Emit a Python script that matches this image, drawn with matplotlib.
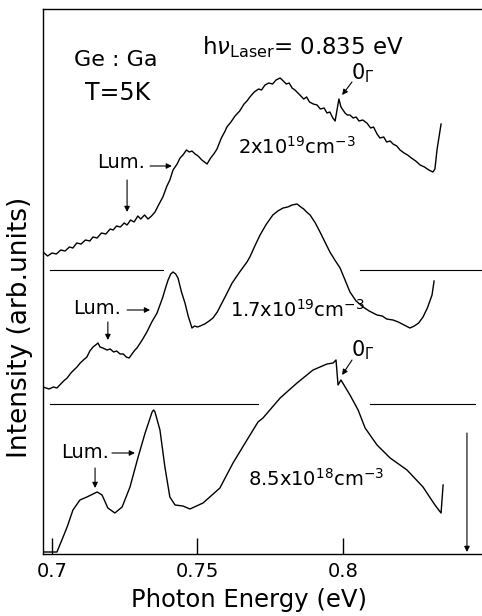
import matplotlib
matplotlib.use("Agg")
import matplotlib.pyplot as plt
import numpy as np

plt.rcParams['font.family'] = ['DejaVu Sans']
plt.rcParams['mathtext.fontset'] = 'dejavusans'

# spectrum 2x10^19 cm^-3 (top)
e_top = [0.6969, 0.6985, 0.7000, 0.7015, 0.7030, 0.7045, 0.7060, 0.7072, 0.7085, 0.7100,
         0.7115, 0.7130, 0.7141, 0.7155, 0.7170, 0.7185, 0.7200, 0.7210, 0.7222, 0.7235,
         0.7248, 0.7258, 0.7270, 0.7282, 0.7295, 0.7305, 0.7318, 0.7330, 0.7342, 0.7354,
         0.7368, 0.7381, 0.7395, 0.7405, 0.7416, 0.7430, 0.7440, 0.7450, 0.7462, 0.7472,
         0.7481, 0.7492, 0.7502, 0.7515, 0.7533, 0.7545, 0.7556, 0.7567, 0.7582, 0.7595,
         0.7601, 0.7615, 0.7629, 0.7645, 0.7660, 0.7670, 0.7680, 0.7695, 0.7710, 0.7720,
         0.7732, 0.7745, 0.7758, 0.7770, 0.7784, 0.7795, 0.7805, 0.7815, 0.7825, 0.7835,
         0.7845, 0.7852, 0.7865, 0.7875, 0.7885, 0.7898, 0.7911, 0.7922, 0.7935, 0.7945,
         0.7955, 0.7965, 0.7973, 0.7980, 0.7986, 0.7993, 0.8007, 0.8015, 0.8024, 0.8035,
         0.8045, 0.8055, 0.8068, 0.8082, 0.8095, 0.8105, 0.8117, 0.8127, 0.8140, 0.8150,
         0.8162, 0.8172, 0.8185, 0.8196, 0.8210, 0.8222, 0.8235, 0.8250, 0.8265, 0.8280,
         0.8295, 0.8309, 0.8316, 0.8323, 0.8330, 0.8337]
i_top = [302, 298, 301, 300, 304, 303, 307, 306, 311, 310,
         314, 313, 317, 316, 321, 320, 325, 324, 328, 327,
         331, 329, 334, 332, 338, 335, 339, 335, 338, 342,
         350, 357, 368, 374, 384, 390, 396, 399, 404, 402,
         403, 400, 398, 394, 390, 396, 400, 405, 416, 423,
         427, 432, 438, 443, 450, 453, 457, 462, 465, 464,
         469, 471, 470, 474, 476, 473, 470, 471, 466, 464,
         461, 459, 455, 457, 452, 450, 449, 445, 446, 441,
         442, 436, 433, 445, 455, 447, 441, 439, 439, 436,
         437, 433, 434, 431, 426, 427, 420, 416, 417, 412,
         413, 410, 408, 404, 401, 399, 396, 393, 389, 387,
         384, 382, 385, 404, 417, 430]

# spectrum 1.7x10^19 cm^-3 (middle)
e_mid = [0.6969, 0.6990, 0.7005, 0.7017, 0.7030, 0.7040, 0.7052, 0.7065, 0.7075, 0.7086,
         0.7097, 0.7108, 0.7120, 0.7130, 0.7141, 0.7150, 0.7158, 0.7165, 0.7175, 0.7189,
         0.7200, 0.7212, 0.7222, 0.7234, 0.7245, 0.7255, 0.7265, 0.7275, 0.7285, 0.7292,
         0.7310, 0.7326, 0.7343, 0.7361, 0.7371, 0.7381, 0.7390, 0.7399, 0.7408, 0.7416,
         0.7425, 0.7433, 0.7445, 0.7457, 0.7468, 0.7481, 0.7490, 0.7500, 0.7509, 0.7525,
         0.7540, 0.7553, 0.7568, 0.7584, 0.7600, 0.7619, 0.7645, 0.7670, 0.7680, 0.7697,
         0.7715, 0.7737, 0.7759, 0.7776, 0.7794, 0.7810, 0.7825, 0.7842, 0.7855, 0.7865,
         0.7875, 0.7887, 0.7905, 0.7921, 0.7938, 0.7955, 0.7972, 0.7990, 0.8007, 0.8024,
         0.8045, 0.8069, 0.8090, 0.8117, 0.8135, 0.8150, 0.8172, 0.8190, 0.8210, 0.8230,
         0.8245, 0.8260, 0.8275, 0.8290, 0.8306, 0.8313]
i_mid = [167, 165, 167, 166, 170, 173, 176, 181, 184, 187,
         191, 194, 197, 203, 207, 209, 211, 207, 206, 204,
         205, 202, 203, 200, 200, 197, 196, 200, 204, 206,
         214, 222, 232, 241, 249, 257, 266, 274, 280, 282,
         280, 276, 262, 251, 238, 226, 228, 227, 228, 230,
         233, 236, 242, 251, 260, 271, 282, 292, 297, 308,
         319, 330, 339, 343, 346, 347, 349, 350, 347, 345,
         342, 339, 331, 322, 312, 302, 294, 286, 274, 262,
         253, 247, 243, 239, 238, 235, 234, 232, 229, 226,
         228, 231, 237, 246, 259, 273]

# spectrum 8.5x10^18 cm^-3 (bottom)
e_bot = [0.6969, 0.7017, 0.7034, 0.7052, 0.7072, 0.7096, 0.7120, 0.7155, 0.7172, 0.7192,
         0.7216, 0.7241, 0.7268, 0.7296, 0.7320, 0.7344, 0.7349, 0.7354, 0.7371, 0.7388,
         0.7405, 0.7423, 0.7450, 0.7474, 0.7519, 0.7577, 0.7622, 0.7670, 0.7708, 0.7725,
         0.7784, 0.7842, 0.7897, 0.7945, 0.7966, 0.7976, 0.7983, 0.7993, 0.8024, 0.8052,
         0.8076, 0.8117, 0.8162, 0.8220, 0.8275, 0.8316, 0.8337, 0.8344]
i_bot = [2, 2, 14, 27, 44, 54, 57, 62, 59, 46,
         41, 47, 67, 97, 121, 142, 144, 142, 124, 87,
         57, 49, 48, 45, 51, 66, 91, 114, 132, 136,
         156, 171, 184, 190, 191, 194, 169, 174, 159, 144,
         126, 109, 96, 84, 67, 49, 41, 69]

# zero lines of the shifted spectra
base_top = 284
base_mid = 150

fig = plt.figure(figsize=(4.82, 6.16), dpi=100)
ax = fig.add_axes([43 / 482, 62 / 616, 1 - 43 / 482, 545 / 616])

lw = 1.0
ax.plot(e_top, i_top, color='k', lw=lw)
ax.plot(e_mid, i_mid, color='k', lw=lw)
ax.plot(e_bot, i_bot, color='k', lw=lw)

ax.plot([0.6993, 0.7381], [base_top, base_top], color='k', lw=0.8)
ax.plot([0.8058, 0.8478], [base_top, base_top], color='k', lw=0.8)
ax.plot([0.6993, 0.7708], [base_mid, base_mid], color='k', lw=0.8)
ax.plot([0.8093, 0.8454], [base_mid, base_mid], color='k', lw=0.8)

ax.set_xlim(0.69691, 0.84777)
ax.set_ylim(0, 545)
ax.spines['right'].set_visible(False)
for s in ['left', 'top', 'bottom']:
    ax.spines[s].set_linewidth(1.0)
ax.set_yticks([])
ax.set_xticks([0.7, 0.75, 0.8])
ax.set_xticklabels(['0.7', '0.75', '0.8'])
ax.tick_params(axis='x', direction='in', length=11.5, width=1.0, labelsize=14, pad=6)
ax.set_xlabel('Photon Energy (eV)', fontsize=17.5)
ax.xaxis.set_label_coords(0.469, -0.062)
ax.set_ylabel('Intensity (arb.units)', fontsize=19)
ax.yaxis.set_label_coords(-0.022, 0.415)

# labels
ax.text(0.7220, 494, 'Ge : Ga', fontsize=16, ha='center', va='center')
ax.text(0.7225, 461, 'T=5K', fontsize=17, ha='center', va='center')
ax.text(0.7515, 507, r'h$\nu_{\mathrm{Laser}}$= 0.835 eV', fontsize=16.5, ha='left', va='center')
ax.text(0.7639, 407, r'2x10$^{19}$cm$^{-3}$', fontsize=14, ha='left', va='center')
ax.text(0.7612, 244, r'1.7x10$^{19}$cm$^{-3}$', fontsize=14, ha='left', va='center')
ax.text(0.7674, 75, r'8.5x10$^{18}$cm$^{-3}$', fontsize=14, ha='left', va='center')

arr = dict(arrowstyle='-|>', color='k', lw=0.8, mutation_scale=8, shrinkA=0, shrinkB=0)

# Lum. markers
lum = [(0.7237, 391, 0.7337, 0.7412, 388, 0.7258, 374, 342),
       (0.7156, 246, 0.7258, 0.7337, 244, 0.7192, 232, 214),
       (0.7113, 101, 0.7206, 0.7285, 101, 0.7148, 86, 66)]
for tx, ty, ax0, ax1, ay, dx, dy0, dy1 in lum:
    ax.text(tx, ty, 'Lum.', fontsize=14, ha='center', va='center')
    ax.annotate('', xy=(ax1, ay), xytext=(ax0, ay), arrowprops=arr)
    ax.annotate('', xy=(dx, dy1), xytext=(dx, dy0), arrowprops=arr)

# O_Gamma phonon markers
for ty, y0, y1 in [(481, 472, 459), (204, 194, 179)]:
    ax.text(0.8028, ty, r'0$_{\Gamma}$', fontsize=15, ha='left', va='center')
    ax.annotate('', xy=(0.7997, y1), xytext=(0.8031, y0), arrowprops=arr)

# laser line
ax.annotate('', xy=(0.8426, 2), xytext=(0.8426, 121), arrowprops=arr)

fig.savefig('out.png', dpi=100)
